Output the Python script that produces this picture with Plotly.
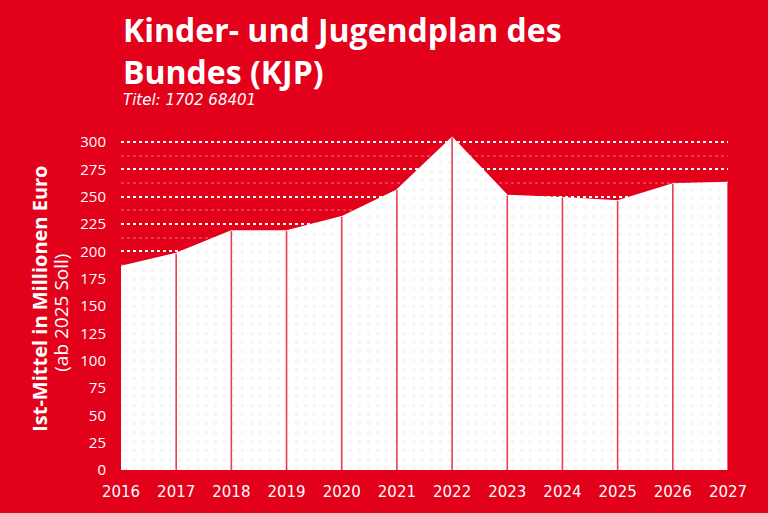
import plotly.graph_objects as go

years = [2016, 2017, 2018, 2019, 2020, 2021, 2022, 2023, 2024, 2025, 2026, 2027]
mittel = [186, 198, 218.5, 218.5, 231.5, 256, 304, 251, 249, 246, 261.5, 263]

RED = "#E2001A"

# drop lines from the baseline up to each value
drop_x, drop_y = [], []
for yr, v in zip(years[1:], mittel[1:]):
    drop_x += [yr, yr, None]
    drop_y += [0, v, None]

fig = go.Figure()
fig.add_trace(go.Scatter(
    x=years, y=mittel, mode="lines", fill="tozeroy",
    line=dict(color="white", width=1.5),
    fillcolor="white",
    fillpattern=dict(shape=".", fgcolor="#ececec", bgcolor="white", size=9, solidity=0.12),
    hoverinfo="skip", showlegend=False,
))
fig.add_trace(go.Scatter(
    x=drop_x, y=drop_y, mode="lines",
    line=dict(color="#e6404f", width=1.6),
    hoverinfo="skip", showlegend=False,
))

fig.update_layout(
    width=768, height=513,
    paper_bgcolor=RED, plot_bgcolor=RED,
    margin=dict(l=121, r=40, t=131, b=43),
    font=dict(family="Open Sans", color="white"),
    xaxis=dict(
        range=[2016, 2027], tickvals=years, ticktext=[str(y) for y in years],
        showgrid=False, zeroline=False, showline=False,
        tickfont=dict(size=15, color="white", family="DejaVu Sans"), ticks="", ticklabelstandoff=11,
    ),
    yaxis=dict(
        range=[0, 310], tickvals=list(range(0, 301, 25)),
        showgrid=True, gridcolor="white", griddash="dot", gridwidth=2,
        minor=dict(dtick=12.5, tick0=12.5, showgrid=True, gridcolor="rgba(255,255,255,0.22)",
                   griddash="dot", gridwidth=2),
        zeroline=False, showline=False, ticks="",
        tickfont=dict(size=15, color="white"), ticklabelstandoff=14,
    ),
    annotations=[
        dict(xref="paper", yref="paper", x=0.0, y=1.2386, xanchor="left", yanchor="middle",
             text="<b>Kinder- und Jugendplan des<br>Bundes (KJP)</b>", align="left",
             showarrow=False, font=dict(size=32, color="white", family="Open Sans")),
        dict(xref="paper", yref="paper", x=0.0, y=1.090, xanchor="left", yanchor="middle",
             text="<i>Titel: 1702 68401</i>", showarrow=False,
             font=dict(size=15, color="white", family="DejaVu Sans")),
        dict(xref="paper", yref="paper", x=-0.1334, y=0.505, xanchor="center", yanchor="middle",
             textangle=-90, text="<b>Ist-Mittel in Millionen Euro</b>",
             showarrow=False, font=dict(size=20, color="white", family="Open Sans")),
        dict(xref="paper", yref="paper", x=-0.0988, y=0.464, xanchor="center", yanchor="middle",
             textangle=-90, text="(ab 2025 Soll)",
             showarrow=False, font=dict(size=19, color="white", family="Open Sans")),
    ],
)

fig.write_html("out.html", config={"displayModeBar": False},
               post_script="document.body.style.margin='0';")
